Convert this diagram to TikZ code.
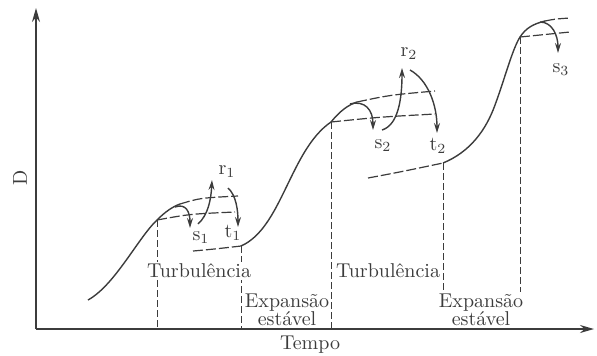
\documentclass[tikz,border=0pt]{standalone}
\usepackage{tikz}
\usetikzlibrary{arrows.meta, positioning}
\definecolor{traco}{RGB}{60, 60, 60}

\begin{document}
\begin{tikzpicture}[x=0.5pt, y=-0.5pt, font=\normalsize,
        eixo/.style={traco, line width=0.7pt, -{Stealth[length=7pt, width=4pt]}},
        curva/.style={traco, line width=0.7pt},
        trace/.style={traco, line width=0.6pt, dash pattern=on 5pt off 1.5pt},
        guia/.style={traco, line width=0.5pt, dash pattern=on 3.5pt off 1.5pt},
        seta/.style={traco, line width=0.7pt, -{Stealth[length=5pt, width=3pt]}},
        rot/.style={fill=white, inner sep=1pt, align=center, text=traco}]
        \useasboundingbox (0,0) rectangle (597,355);
        % Eixos
        \coordinate (orig) at (36,329);
        \coordinate (topo) at (36,8);
        \coordinate (fim) at (594,329);
        \draw[eixo] (orig) -- (topo);
        \draw[eixo] (orig) -- (fim);
        \node[rotate=90, text=traco] (D) at (20,178) {D};
        \node[text=traco] (tempo) at (310,345) {Tempo};
        % Pontos de inflexao
        \coordinate (a1) at (157,220);
        \coordinate (b1) at (241,246);
        \coordinate (a2) at (331,122);
        \coordinate (b2) at (443,163);
        \coordinate (a3) at (520,37);
        % Linhas verticais
        \foreach \p in {a1, b1, a2, b2, a3}
          \draw[guia] (\p) -- (\p |- orig);
        % Curva principal
        \draw[curva] (88,300) .. controls (115,285) and (138,238) .. (a1)
          .. controls (165,212) and (172,207) .. (180,204);
        \draw[trace] (180,204) .. controls (200,198) .. (238,196);
        \draw[trace] (a1) .. controls (190,214) .. (235,212);
        \draw[trace] (193,251) .. controls (215,249) .. (b1);
        \draw[curva] (b1) .. controls (282,228) and (290,150) .. (a2)
          .. controls (340,111) and (348,105) .. (357,102);
        \draw[trace] (357,102) .. controls (390,95) .. (435,91);
        \draw[trace] (a2) .. controls (380,117) .. (435,114);
        \draw[trace] (368,178) .. controls (400,172) .. (b2);
        \draw[curva] (b2) .. controls (470,152) and (486,130) .. (495,105)
          .. controls (505,78) and (512,50) .. (a3)
          .. controls (526,28) and (533,24) .. (545,21);
        \draw[trace] (545,21) .. controls (555,19) .. (570,18);
        \draw[trace] (a3) .. controls (545,34) .. (570,32);
        % Setas s, r, t
        \draw[seta] (175,207) .. controls (186,203) and (190,212) .. (190,228);
        \draw[seta] (198,224) .. controls (208,215) and (211,200) .. (212,180);
        \draw[seta] (228,188) .. controls (236,195) and (238,210) .. (238,227);
        \draw[seta] (350,104) .. controls (365,100) and (373,110) .. (373,130);
        \draw[seta] (382,130) .. controls (398,125) and (402,100) .. (402,68);
        \draw[seta] (410,70) .. controls (428,80) and (437,105) .. (437,133);
        \draw[seta] (540,22) .. controls (552,22) and (558,35) .. (558,53);
        % Rotulos
        \node[text=traco] (s1) at (201,238) {$\mathrm{s}_1$};
        \node[text=traco] (r1) at (227,172) {$\mathrm{r}_1$};
        \node[text=traco] (t1) at (233,233) {$\mathrm{t}_1$};
        \node[text=traco] (s2) at (383,146) {$\mathrm{s}_2$};
        \node[text=traco] (r2) at (409,54) {$\mathrm{r}_2$};
        \node[text=traco] (t2) at (438,146) {$\mathrm{t}_2$};
        \node[text=traco] (s3) at (561,70) {$\mathrm{s}_3$};
        % Fases
        \node[rot] (turb1) at (199,271) {Turbulência};
        \node[rot] (exp1) at (287,310) {Expansão\\[-3pt]estável};
        \node[rot] (turb2) at (388,271) {Turbulência};
        \node[rot] (exp2) at (481,310) {Expansão\\[-3pt]estável};
      \end{tikzpicture}
\end{document}
